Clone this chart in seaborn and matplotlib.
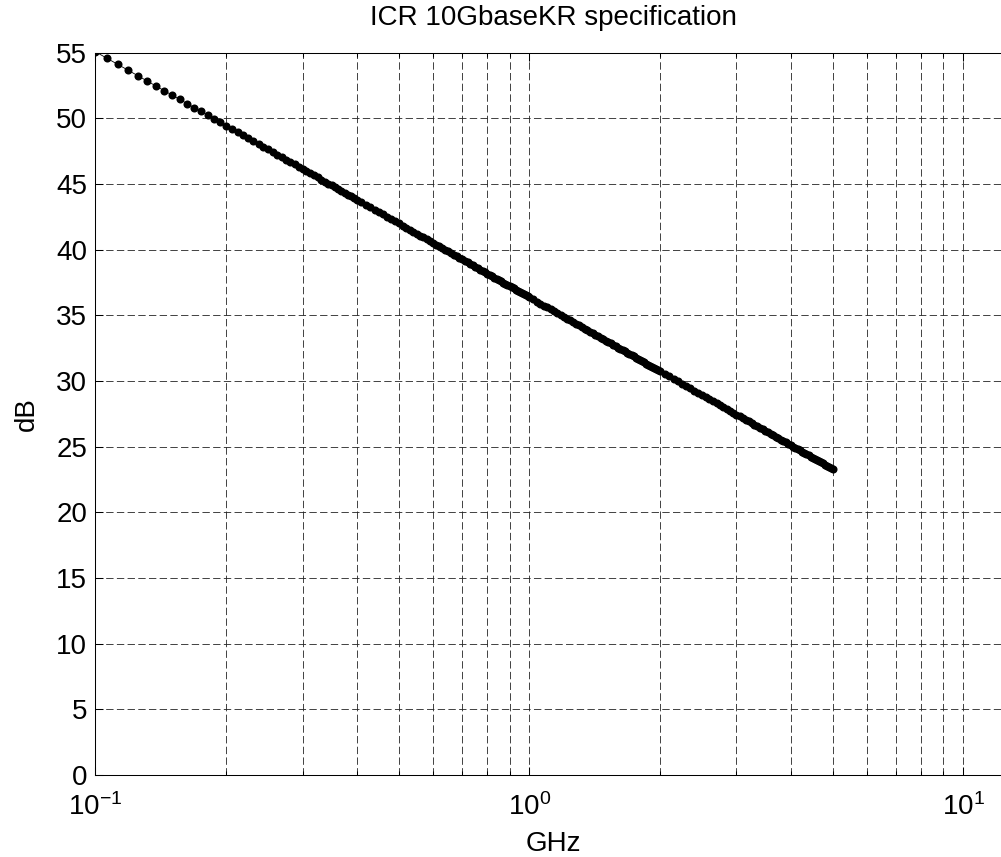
import numpy as np
import pandas as pd
import matplotlib.pyplot as plt
import seaborn as sns
from matplotlib.ticker import LogLocator, NullFormatter

# ICR limit, GHz vs dB (split in bands of sample spacing)
freq_low = [0.1, 0.10625, 0.1125, 0.11875, 0.125, 0.13125, 0.1375, 0.14375, 0.15, 0.15625,
            0.1625, 0.16875, 0.175, 0.18125, 0.1875, 0.19375, 0.2, 0.20625, 0.2125, 0.21875,
            0.225, 0.23125, 0.2375, 0.24375, 0.25, 0.25625, 0.2625, 0.26875, 0.275, 0.28125,
            0.2875, 0.29375, 0.3, 0.30625, 0.3125, 0.31875, 0.325, 0.33125, 0.3375, 0.34375,
            0.35, 0.35625, 0.3625, 0.36875, 0.375, 0.38125, 0.3875, 0.39375, 0.4]
db_low = [55.07, 54.58, 54.11, 53.68, 53.26, 52.86, 52.48, 52.12, 51.78, 51.45,
          51.13, 50.82, 50.53, 50.24, 49.97, 49.70, 49.44, 49.19, 48.95, 48.71,
          48.49, 48.26, 48.05, 47.84, 47.63, 47.43, 47.23, 47.04, 46.86, 46.67,
          46.49, 46.32, 46.15, 45.98, 45.82, 45.66, 45.50, 45.34, 45.19, 45.04,
          44.90, 44.75, 44.61, 44.47, 44.34, 44.20, 44.07, 43.94, 43.81]

freq_mid = [0.41, 0.42, 0.43, 0.44, 0.45, 0.46, 0.47, 0.48, 0.49, 0.50,
            0.51, 0.52, 0.53, 0.54, 0.55, 0.56, 0.57, 0.58, 0.59, 0.60,
            0.61, 0.62, 0.63, 0.64, 0.65, 0.66, 0.67, 0.68, 0.69, 0.70,
            0.71, 0.72, 0.73, 0.74, 0.75, 0.76, 0.77, 0.78, 0.79, 0.80,
            0.81, 0.82, 0.83, 0.84, 0.85, 0.86, 0.87, 0.88, 0.89, 0.90,
            0.91, 0.92, 0.93, 0.94, 0.95, 0.96, 0.97, 0.98, 0.99]
db_mid = [43.61, 43.42, 43.22, 43.04, 42.86, 42.68, 42.50, 42.33, 42.16, 42.00,
          41.84, 41.68, 41.53, 41.38, 41.23, 41.08, 40.94, 40.79, 40.66, 40.52,
          40.39, 40.25, 40.12, 40.00, 39.87, 39.75, 39.62, 39.50, 39.38, 39.27,
          39.15, 39.04, 38.93, 38.82, 38.71, 38.60, 38.49, 38.39, 38.29, 38.18,
          38.08, 37.98, 37.88, 37.79, 37.69, 37.60, 37.50, 37.41, 37.32, 37.23,
          37.14, 37.05, 36.96, 36.87, 36.79, 36.70, 36.62, 36.53, 36.45]

freq_1g = [1.00, 1.02, 1.04, 1.06, 1.08, 1.10, 1.12, 1.14, 1.16, 1.18,
           1.20, 1.22, 1.24, 1.26, 1.28, 1.30, 1.32, 1.34, 1.36, 1.38,
           1.40, 1.42, 1.44, 1.46, 1.48, 1.50, 1.52, 1.54, 1.56, 1.58,
           1.60, 1.62, 1.64, 1.66, 1.68, 1.70, 1.72, 1.74, 1.76, 1.78,
           1.80, 1.82, 1.84, 1.86, 1.88, 1.90, 1.92, 1.94, 1.96, 1.98]
db_1g = [36.37, 36.21, 36.05, 35.90, 35.75, 35.60, 35.45, 35.31, 35.17, 35.03,
         34.89, 34.76, 34.62, 34.49, 34.37, 34.24, 34.12, 33.99, 33.87, 33.75,
         33.64, 33.52, 33.41, 33.30, 33.19, 33.08, 32.97, 32.86, 32.76, 32.66,
         32.55, 32.45, 32.35, 32.25, 32.16, 32.06, 31.97, 31.87, 31.78, 31.69,
         31.60, 31.51, 31.42, 31.33, 31.24, 31.16, 31.07, 30.99, 30.91, 30.82]

freq_high = [2.00, 2.05, 2.10, 2.15, 2.20, 2.25, 2.30, 2.35, 2.40, 2.45,
             2.50, 2.55, 2.60, 2.65, 2.70, 2.75, 2.80, 2.85, 2.90, 2.95,
             3.00, 3.05, 3.10, 3.15, 3.20, 3.25, 3.30, 3.35, 3.40, 3.45,
             3.50, 3.55, 3.60, 3.65, 3.70, 3.75, 3.80, 3.85, 3.90, 3.95,
             4.00, 4.05, 4.10, 4.15, 4.20, 4.25, 4.30, 4.35, 4.40, 4.45,
             4.50, 4.55, 4.60, 4.65, 4.70, 4.75, 4.80, 4.85, 4.90, 4.95, 5.00]
db_high = [30.74, 30.54, 30.35, 30.15, 29.97, 29.78, 29.61, 29.43, 29.26, 29.09,
           28.93, 28.77, 28.61, 28.46, 28.30, 28.16, 28.01, 27.87, 27.72, 27.59,
           27.45, 27.31, 27.18, 27.05, 26.92, 26.80, 26.67, 26.55, 26.43, 26.31,
           26.20, 26.08, 25.97, 25.86, 25.75, 25.64, 25.53, 25.42, 25.32, 25.21,
           25.11, 25.01, 24.91, 24.81, 24.72, 24.62, 24.52, 24.43, 24.34, 24.25,
           24.16, 24.07, 23.98, 23.89, 23.80, 23.72, 23.63, 23.55, 23.46, 23.38, 23.30]

y_ticks = [0, 5, 10, 15, 20, 25, 30, 35, 40, 45, 50, 55]

df = pd.DataFrame({
    'GHz': freq_low + freq_mid + freq_1g + freq_high,
    'dB': db_low + db_mid + db_1g + db_high,
})

sns.set_style('white')
plt.rcParams['font.family'] = ['Liberation Sans', 'DejaVu Sans']
plt.rcParams['mathtext.fontset'] = 'custom'
plt.rcParams['mathtext.rm'] = 'Liberation Sans'
plt.rcParams['mathtext.default'] = 'regular'
plt.rcParams['lines.scale_dashes'] = False
plt.rcParams['text.color'] = 'black'
plt.rcParams['axes.labelcolor'] = 'black'

fig = plt.figure(figsize=(10.01, 8.57), dpi=100)
# axes run a little past the right edge of the picture, as in the original
ax = fig.add_axes([0.0954, 0.0957, 0.9149, 0.8428])

ax.set_xscale('log')
sns.lineplot(data=df, x='GHz', y='dB', ax=ax, estimator=None, sort=False,
             color='black', linewidth=0.6, marker='o', markersize=5.8,
             markeredgewidth=0, markerfacecolor='black')

ax.set_xlim(0.1, 12.9)
ax.set_ylim(0, 55)
ax.set_yticks(y_ticks)
ax.xaxis.set_major_locator(LogLocator(base=10, numticks=10))
ax.xaxis.set_minor_locator(LogLocator(base=10, subs=np.arange(2, 10), numticks=30))
ax.xaxis.set_minor_formatter(NullFormatter())

grid_kw = dict(color='#222222', linewidth=0.6, linestyle=(0, (5.3, 2.4)))
ax.grid(True, which='both', axis='x', **grid_kw)
ax.grid(True, which='major', axis='y', **grid_kw)

ax.tick_params(which='both', direction='in', top=True, right=False, bottom=True, left=True,
               colors='black', width=0.75, labelsize=20)
ax.tick_params(which='major', length=6)
ax.tick_params(which='minor', length=3)
ax.tick_params(axis='x', pad=13)
ax.tick_params(axis='y', pad=6)
for sp in ax.spines.values():
    sp.set_color('black')
    sp.set_linewidth(0.75)
ax.spines['right'].set_visible(False)

ax.set_xlabel('GHz', fontsize=20, labelpad=7)
ax.set_ylabel('dB', fontsize=20, labelpad=12)
ax.set_title('ICR 10GbaseKR specification', fontsize=20, pad=20)

fig.savefig('out.png', dpi=100)
